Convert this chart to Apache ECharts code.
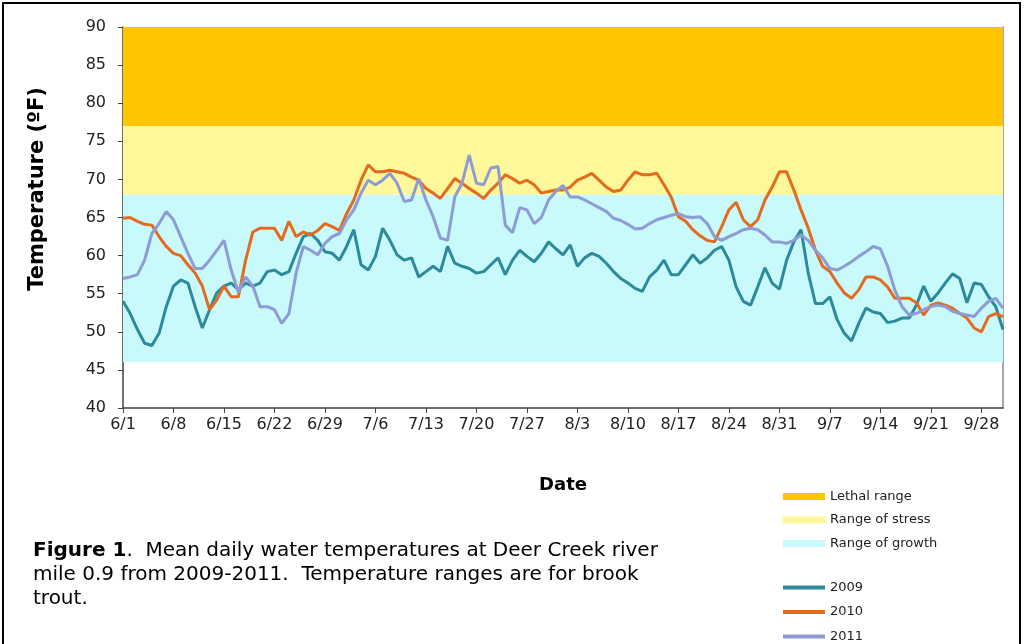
<!DOCTYPE html>
<html>
<head>
<meta charset="utf-8">
<script src="https://cdn.jsdelivr.net/npm/echarts@6/dist/echarts.min.js"></script>
<style>
  html, body { margin: 0; padding: 0; background: #fff; }
  #chart { width: 1027px; height: 644px; }
  #frame { position: absolute; left: 2px; top: 2px; width: 1015px; height: 650px; border: 2px solid #000; pointer-events: none; }
</style>
</head>
<body>
<div id="chart"></div>
<div id="frame"></div>
<script>
// date labels 6/1 .. 10/1
const months = [[6, 30], [7, 31], [8, 31], [9, 30], [10, 1]];
const dates = [];
months.forEach(([m, n]) => { for (let d = 1; d <= n; d++) dates.push(m + '/' + d); });

const bands = [
  { name: 'Lethal range', from: 77, to: 90, color: '#FFC600' },
  { name: 'Range of stress', from: 68, to: 77, color: '#FFF89B' },
  { name: 'Range of growth', from: 46, to: 68, color: '#C8F9FB' }
];

const t2009 = [
  54, 52.4, 50.3, 48.5, 48.2, 49.8, 53.3, 56, 56.8, 56.4, 53.3, 50.5, 52.9, 55.1, 56, 56.4, 55.5, 56.4, 56, 56.4,
  57.9, 58.1, 57.5, 57.9, 60.3, 62.5, 62.9, 62, 60.5, 60.3, 59.4, 61.2, 63.4, 58.8, 58.1, 59.9, 63.6, 62, 60.1, 59.4,
  59.7, 57.2, 57.9, 58.6, 57.9, 61.2, 59, 58.6, 58.3, 57.7, 57.9, 58.8, 59.7, 57.5, 59.4, 60.7, 59.9, 59.2, 60.3, 61.8,
  60.9, 60.1, 61.4, 58.6, 59.7, 60.3, 59.9, 59, 57.9, 57, 56.4, 55.7, 55.3, 57.2, 58.1, 59.4, 57.5, 57.5, 58.8, 60.1,
  59, 59.7, 60.7, 61.2, 59.4, 55.9, 54, 53.5, 55.9, 58.4, 56.4, 55.6, 59.4, 61.8, 63.4, 57.7, 53.7, 53.7, 54.6, 51.6,
  49.8, 48.8, 51.1, 53.1, 52.6, 52.4, 51.2, 51.4, 51.8, 51.8, 53.5, 56, 54, 55.1, 56.4, 57.6, 57, 53.8, 56.4, 56.2,
  54.6, 53.3, 50.3
];
const t2010 = [
  64.9, 65, 64.5, 64.1, 64, 62.5, 61.2, 60.3, 60, 58.8, 57.7, 56, 52.9, 54.2, 56, 54.6, 54.6, 59.4, 63.1, 63.6,
  63.6, 63.6, 62, 64.5, 62.5, 63.1, 62.7, 63.3, 64.2, 63.8, 63.3, 65.5, 67.3, 69.9, 71.9, 71, 71, 71.2, 71, 70.8,
  70.3, 69.9, 68.8, 68.2, 67.5, 68.8, 70.1, 69.5, 68.8, 68.2, 67.5, 68.6, 69.5, 70.6, 70.1, 69.5, 69.9, 69.3, 68.2, 68.4,
  68.6, 68.6, 69, 69.9, 70.3, 70.8, 69.9, 69, 68.4, 68.6, 69.9, 71, 70.6, 70.6, 70.8, 69.3, 67.7, 65.1, 64.5, 63.4,
  62.6, 62, 61.8, 63.8, 66, 67, 64.7, 63.8, 64.7, 67.3, 69, 71, 71, 68.6, 66, 63.6, 60.7, 58.6, 57.9, 56.4,
  55.1, 54.4, 55.5, 57.2, 57.2, 56.8, 55.9, 54.4, 54.4, 54.4, 53.8, 52.2, 53.5, 53.8, 53.5, 53.1, 52.4, 51.8, 50.5, 50,
  52, 52.4, 52
];
const t2011 = [
  57, 57.2, 57.5, 59.4, 62.9, 64.2, 65.8, 64.7, 62.5, 60.3, 58.3, 58.3, 59.4, 60.7, 62, 58.1, 55.2, 57.2, 56, 53.3,
  53.3, 52.9, 51.1, 52.4, 57.7, 61.2, 60.7, 60.1, 61.6, 62.5, 62.9, 64.7, 66, 68.2, 69.9, 69.3, 69.9, 70.8, 69.5, 67.1,
  67.3, 70.1, 67.3, 65.1, 62.3, 62, 67.7, 69.5, 73.2, 69.5, 69.3, 71.5, 71.7, 64, 63, 66.3, 66, 64.2, 65, 67.3,
  68.4, 69.2, 67.7, 67.7, 67.3, 66.8, 66.3, 65.8, 64.9, 64.6, 64.1, 63.5, 63.6, 64.2, 64.7, 65, 65.3, 65.5, 65.1, 65,
  65.1, 64.2, 62.5, 62, 62.5, 62.9, 63.4, 63.6, 63.4, 62.7, 61.8, 61.8, 61.6, 62, 62.7, 62, 60.7, 59.7, 58.3, 58.1,
  58.6, 59.2, 59.9, 60.5, 61.2, 60.9, 58.6, 55.5, 53.3, 52.2, 52.4, 52.9, 53.3, 53.5, 53.3, 52.7, 52.4, 52.2, 52, 53.1,
  54, 54.4, 53.1
];

const years = [
  { name: '2009', data: t2009, color: '#2C8A9A' },
  { name: '2010', data: t2010, color: '#E26B1E' },
  { name: '2011', data: t2011, color: '#8E9BD5' }
];

const chart = echarts.init(document.getElementById('chart'));
const font = 'DejaVu Sans, Liberation Sans, Arial, sans-serif';
const everyWeek = (i) => i % 7 === 0;

const bandSeries = bands.map(b => ({
  name: b.name,
  type: 'line',
  data: [],
  itemStyle: { color: b.color },
  lineStyle: { color: b.color },
  markArea: {
    silent: true,
    itemStyle: { color: b.color },
    data: [[{ yAxis: b.from }, { yAxis: b.to }]]
  }
}));

const yearSeries = years.map(y => ({
  name: y.name,
  type: 'line',
  data: y.data,
  symbol: 'none',
  z: 5,
  itemStyle: { color: y.color },
  lineStyle: { color: y.color, width: 3 }
}));

chart.setOption({
  animation: false,
  textStyle: { fontFamily: font },
  grid: { left: 123, top: 27, right: 24, bottom: 236 },
  title: {
    left: 28, top: 534,
    text: '{b|Figure 1}.  Mean daily water temperatures at Deer Creek river\nmile 0.9 from 2009-2011.  Temperature ranges are for brook\ntrout.',
    textStyle: {
      fontFamily: font, fontSize: 20, fontWeight: 'normal', color: '#000', lineHeight: 24,
      rich: { b: { fontFamily: font, fontSize: 20, fontWeight: 'bold', color: '#000', lineHeight: 24 } }
    }
  },
  graphic: [{
    type: 'text',
    x: 38, y: 189,
    rotation: Math.PI / 2,
    style: {
      text: 'Temperature (ºF)',
      fontFamily: font, fontSize: 21, fontWeight: 'bold', fill: '#000',
      align: 'center', verticalAlign: 'middle'
    }
  }],
  legend: [
    {
      data: bands.map(b => b.name),
      orient: 'vertical', left: 778, top: 485,
      icon: 'rect', itemWidth: 42, itemHeight: 7, itemGap: 10.5,
      textStyle: { fontFamily: font, fontSize: 13, color: '#222' }
    },
    {
      data: years.map(y => y.name),
      orient: 'vertical', left: 783, top: 581, padding: 0,
      icon: 'rect', itemWidth: 42, itemHeight: 4, itemGap: 11.5,
      textStyle: { fontFamily: font, fontSize: 13, lineHeight: 12, color: '#222' }
    }
  ],
  xAxis: {
    type: 'category',
    data: dates,
    boundaryGap: false,
    name: 'Date',
    nameLocation: 'middle',
    nameGap: 68,
    nameTextStyle: { fontFamily: font, fontSize: 18, fontWeight: 'bold', color: '#000' },
    axisLine: { lineStyle: { color: '#404040', width: 1.5 } },
    axisTick: { interval: (i) => everyWeek(i), length: 5, lineStyle: { color: '#404040' } },
    axisLabel: { interval: (i) => everyWeek(i), fontSize: 16, color: '#222', margin: 9 },
    splitLine: { show: false }
  },
  yAxis: [
    {
      type: 'value',
      min: 40, max: 90, interval: 5,
      axisLine: { show: true, lineStyle: { color: '#404040', width: 1.5 } },
      axisTick: { show: true, length: 5, lineStyle: { color: '#404040' } },
      axisLabel: { fontSize: 16, color: '#222', margin: 17 },
      splitLine: { show: false }
    },
    {
      type: 'value',
      min: 40, max: 90, interval: 5,
      position: 'right',
      axisLine: { show: true, lineStyle: { color: '#8a8a8a', width: 1.5 } },
      axisTick: { show: false },
      axisLabel: { show: false },
      splitLine: { show: false }
    }
  ],
  series: [...bandSeries, ...yearSeries]
});
</script>
</body>
</html>
